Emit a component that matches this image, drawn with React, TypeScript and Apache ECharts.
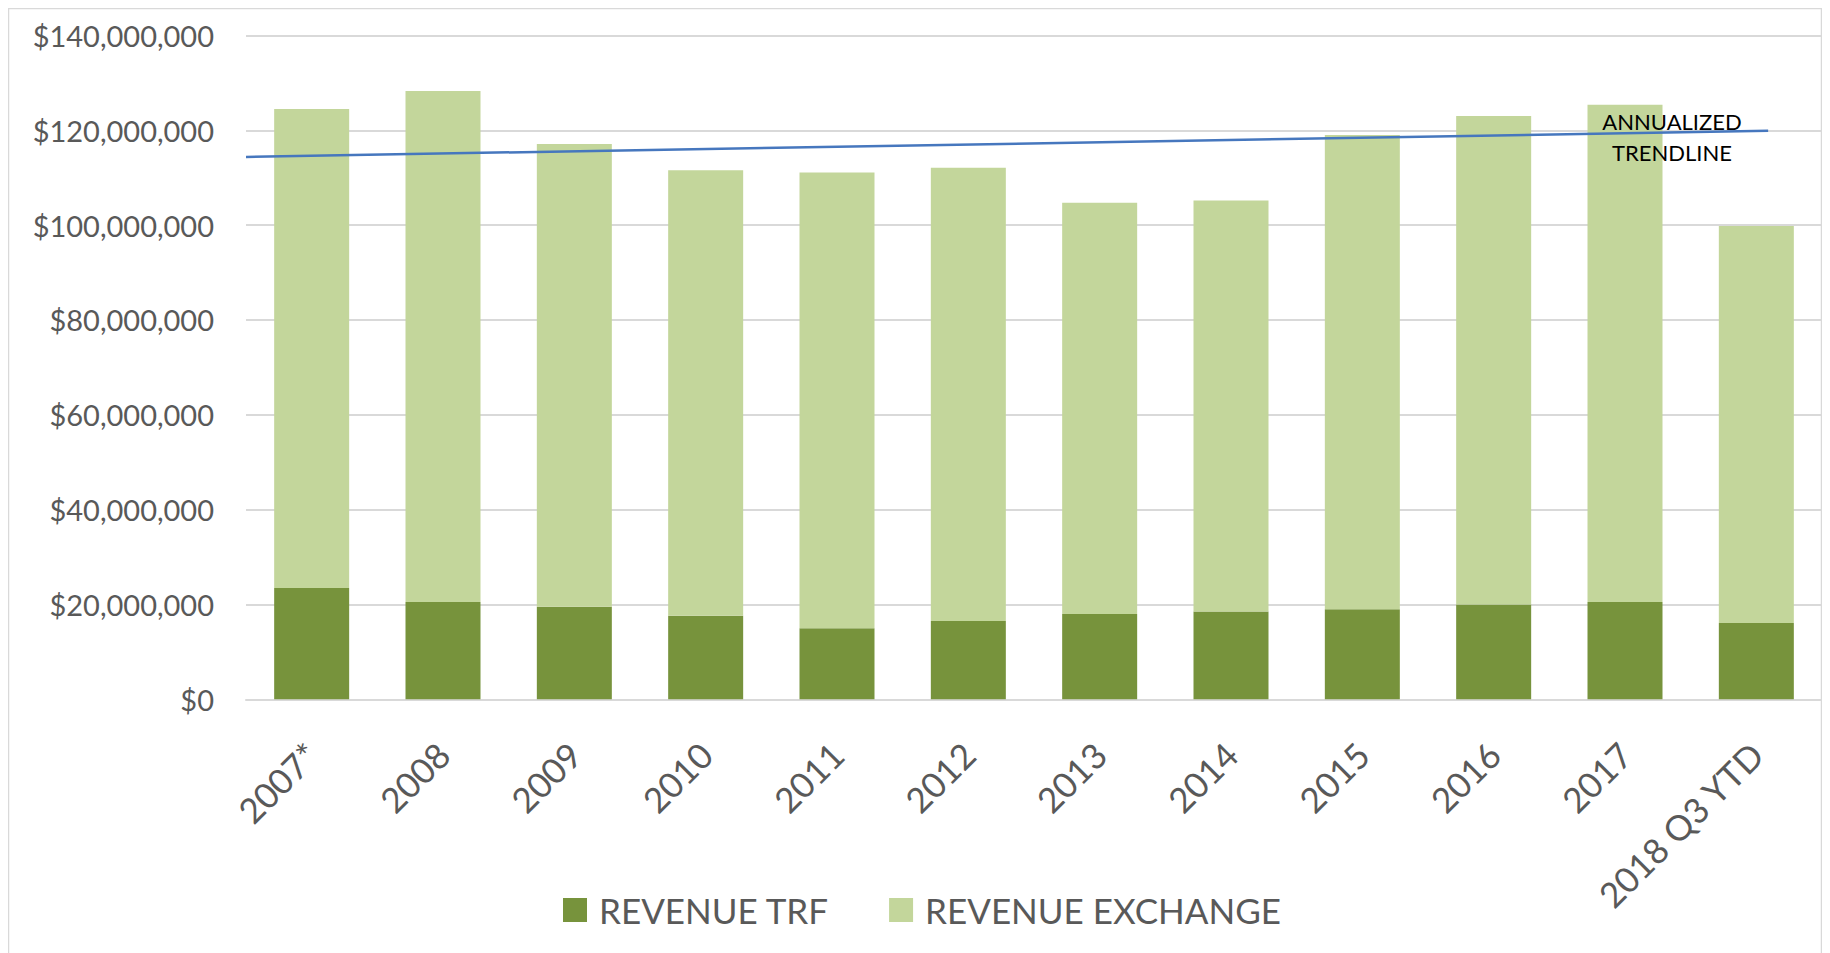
import React, { useEffect, useRef } from "react";
import * as echarts from "echarts";

const categories = ["2007*", "2008", "2009", "2010", "2011", "2012", "2013", "2014", "2015", "2016", "2017", "2018 Q3 YTD"];
const revenueTrf = [23500000, 20500000, 19500000, 17600000, 15000000, 16500000, 18000000, 18500000, 19000000, 20000000, 20500000, 16100000];
const revenueExchange = [101000000, 107800000, 97600000, 94000000, 96100000, 95600000, 86700000, 86700000, 100000000, 103000000, 104900000, 83700000];
// annualized trendline endpoints: [category position, value]
const trendline = [[-0.5, 114400000], [11.09, 119900000]];
const yTicks = { min: 0, max: 140000000, interval: 20000000 };
const legendNames = ["REVENUE TRF", "REVENUE EXCHANGE"];
const annotation = ["ANNUALIZED", "TRENDLINE"];

const FONT = "Lato, 'Open Sans', sans-serif";
const TXT = "#595959";

function fmtMoney(v: number): string {
  return "$" + Math.round(v).toString().replace(/\B(?=(\d{3})+(?!\d))/g, ",");
}

export default function App() {
  const ref = useRef<HTMLDivElement>(null);
  useEffect(() => {
    if (!ref.current) return;
    const chart = echarts.init(ref.current, null, { renderer: "svg" });
    chart.setOption({
      animation: false,
      backgroundColor: "#ffffff",
      grid: { left: 238, right: 0, top: 27.5, bottom: 253.7, containLabel: false },
      legend: {
        data: legendNames,
        left: 550,
        top: 879,
        itemWidth: 24,
        itemHeight: 24,
        itemGap: 60,
        icon: "rect",
        textStyle: { fontFamily: FONT, fontSize: 35, color: TXT, padding: [0, 0, 0, 7], lineHeight: 36 },
      },
      xAxis: [
        {
          type: "category",
          data: categories,
          axisLine: { show: true, lineStyle: { color: "#D9D9D9", width: 2 } },
          axisTick: { show: false },
          axisLabel: {
            rotate: 45,
            margin: 49,
            interval: 0,
            fontFamily: FONT,
            fontSize: 35,
            color: TXT,
          },
        },
        {
          type: "value",
          min: -0.5,
          max: 11.5,
          show: false,
        },
      ],
      yAxis: {
        type: "value",
        min: yTicks.min,
        max: yTicks.max,
        interval: yTicks.interval,
        axisLine: { show: false },
        axisTick: { show: false },
        splitLine: { lineStyle: { color: "#D9D9D9", width: 2 } },
        axisLabel: {
          margin: 32,
          fontFamily: FONT,
          fontSize: 29,
          color: TXT,
          padding: [0, 0, 3, 0],
          formatter: (v: number) => fmtMoney(v),
        },
      },
      series: [
        {
          name: legendNames[0],
          type: "bar",
          stack: "rev",
          data: revenueTrf,
          barWidth: 75,
          itemStyle: { color: "#77933C" },
        },
        {
          name: legendNames[1],
          type: "bar",
          stack: "rev",
          data: revenueExchange,
          barWidth: 75,
          itemStyle: { color: "#C3D69B" },
        },
        {
          name: "Trendline",
          type: "line",
          xAxisIndex: 1,
          data: trendline,
          symbol: "none",
          lineStyle: { color: "#4677BE", width: 2.5 },
          z: 5,
        },
      ],
      graphic: [
        {
          type: "rect",
          shape: { x: 0.5, y: 0.5, width: 1813, height: 980 },
          style: { fill: "none", stroke: "#D9D9D9", lineWidth: 1.5 },
          silent: true,
        },
        {
          type: "text",
          x: 1664,
          y: 113,
          style: { text: annotation[0], fontFamily: FONT, fontSize: 22, fill: "#000000", textAlign: "center", textVerticalAlign: "middle" },
          z: 10,
        },
        {
          type: "text",
          x: 1664,
          y: 144.7,
          style: { text: annotation[1], fontFamily: FONT, fontSize: 22, fill: "#000000", textAlign: "center", textVerticalAlign: "middle" },
          z: 10,
        },
      ],
    });
    return () => chart.dispose();
  }, []);
  return (
    <div
      ref={ref}
      style={{ position: "absolute", left: 8, top: 8, width: 1814, height: 945 }}
    />
  );
}
